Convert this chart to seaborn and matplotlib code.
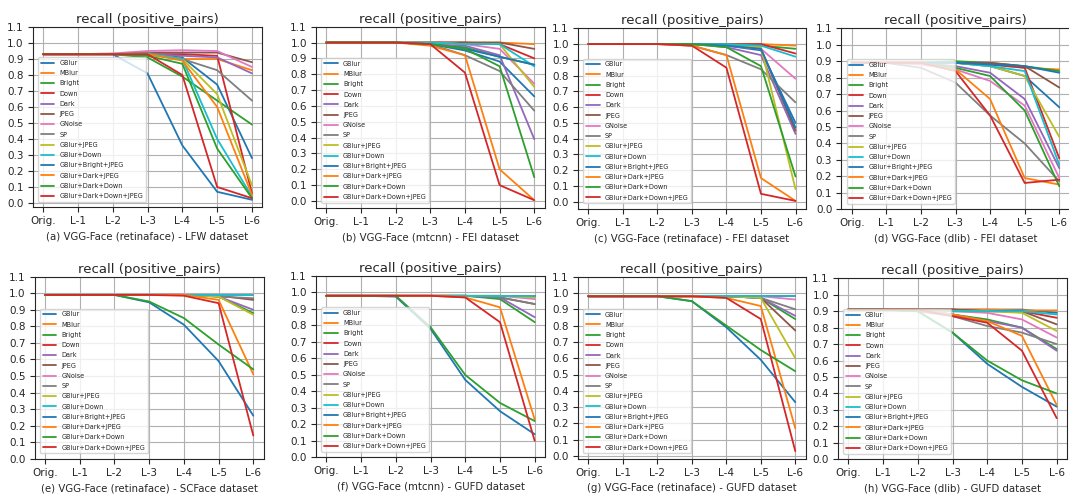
import numpy as np
import pandas as pd
import matplotlib.pyplot as plt
import seaborn as sns
from matplotlib.ticker import FormatStrFormatter

# Data

levels = ['Orig.', 'L-1', 'L-2', 'L-3', 'L-4', 'L-5', 'L-6']
methods = ['GBlur', 'MBlur', 'Bright', 'Down', 'Dark', 'JPEG', 'GNoise', 'SP',
           'GBlur+JPEG', 'GBlur+Down', 'GBlur+Bright+JPEG', 'GBlur+Dark+JPEG',
           'GBlur+Dark+Down', 'GBlur+Dark+Down+JPEG']

retina_lfw = [
    [.93, .93, .93, .93, .91, .74, .28],
    [.93, .93, .93, .93, .90, .90, .83],
    [.93, .93, .93, .91, .79, .64, .49],
    [.93, .93, .93, .93, .93, .92, .06],
    [.93, .93, .93, .93, .92, .91, .81],
    [.93, .93, .93, .94, .94, .94, .88],
    [.93, .93, .935, .95, .955, .95, .85],
    [.93, .93, .93, .94, .90, .83, .64],
    [.93, .93, .93, .93, .90, .68, .11],
    [.93, .93, .93, .93, .90, .40, .04],
    [.93, .93, .93, .81, .36, .07, .02],
    [.93, .93, .93, .93, .89, .60, .05],
    [.93, .93, .93, .92, .87, .34, .03],
    [.93, .93, .93, .93, .80, .10, .03],
]
mtcnn_fei = [
    [1, 1, 1, .99, .95, .88, .66],
    [1, 1, 1, 1, 1, 1, .99],
    [1, 1, 1, .99, .97, .91, .86],
    [1, 1, 1, 1, 1, .99, .90],
    [1, 1, 1, .99, .98, .92, .39],
    [1, 1, 1, 1, 1, 1, .96],
    [1, 1, 1, 1, .99, .96, .74],
    [1, 1, 1, .99, .92, .82, .57],
    [1, 1, 1, 1, .99, .99, .72],
    [1, 1, 1, 1, .99, .99, .85],
    [1, 1, 1, .99, .96, .91, .86],
    [1, 1, 1, .98, .92, .20, .005],
    [1, 1, 1, .99, .96, .85, .15],
    [1, 1, 1, .99, .81, .10, .005],
]
retina_fei = [
    [1, 1, 1, 1, .99, .96, .50],
    [1, 1, 1, 1, 1, 1, .99],
    [1, 1, 1, 1, .99, .99, .97],
    [1, 1, 1, 1, 1, 1, .94],
    [1, 1, 1, 1, .98, .93, .43],
    [1, 1, 1, 1, .99, .97, .45],
    [1, 1, 1, 1, .99, .97, .78],
    [1, 1, 1, .99, .93, .84, .63],
    [1, 1, 1, 1, .99, .98, .08],
    [1, 1, 1, 1, 1, .99, .92],
    [1, 1, 1, 1, .99, .97, .47],
    [1, 1, 1, .99, .93, .15, .005],
    [1, 1, 1, 1, .98, .86, .16],
    [1, 1, 1, .99, .85, .05, .005],
]
dlib_fei = [
    [.89, .89, .89, .89, .87, .81, .62],
    [.89, .89, .89, .89, .88, .86, .85],
    [.89, .89, .89, .90, .89, .87, .84],
    [.89, .89, .89, .89, .88, .86, .31],
    [.89, .89, .89, .87, .83, .67, .25],
    [.89, .89, .89, .89, .89, .87, .74],
    [.89, .89, .88, .85, .78, .63, .19],
    [.89, .89, .86, .77, .57, .40, .17],
    [.89, .89, .89, .89, .87, .81, .44],
    [.89, .89, .89, .89, .87, .84, .27],
    [.89, .89, .89, .89, .88, .87, .83],
    [.89, .89, .89, .85, .67, .19, .15],
    [.89, .89, .89, .86, .81, .60, .14],
    [.89, .89, .89, .84, .57, .16, .18],
]
retina_scface = [
    [.99, .99, .99, .99, .99, .99, .99],
    [.99, .99, .99, .99, .99, .99, .99],
    [.99, .99, .99, .99, .99, .98, .88],
    [.99, .99, .99, .99, .99, .99, .99],
    [.99, .99, .99, .99, .99, .98, .90],
    [.99, .99, .99, .99, .99, .985, .96],
    [.99, .99, .99, .99, .99, .99, .99],
    [.99, .99, .99, .99, .99, .98, .97],
    [.99, .99, .99, .99, .99, .98, .87],
    [.99, .99, .99, .99, .99, .99, .99],
    [.99, .99, .99, .945, .81, .59, .26],
    [.99, .99, .99, .99, .99, .96, .51],
    [.99, .99, .99, .95, .85, .69, .54],
    [.99, .99, .99, .99, .985, .94, .14],
]
mtcnn_gufd = [
    [.98, .98, .98, .98, .98, .98, .98],
    [.98, .98, .98, .98, .98, .98, .98],
    [.98, .98, .98, .98, .98, .96, .82],
    [.98, .98, .98, .98, .98, .98, .98],
    [.98, .98, .98, .98, .98, .97, .85],
    [.98, .98, .98, .98, .98, .97, .93],
    [.98, .98, .98, .98, .98, .98, .96],
    [.98, .98, .98, .98, .98, .97, .93],
    [.98, .98, .98, .98, .98, .98, .97],
    [.98, .98, .98, .98, .98, .98, .98],
    [.98, .98, .975, .78, .47, .28, .14],
    [.98, .98, .98, .98, .97, .91, .23],
    [.98, .98, .98, .79, .50, .33, .22],
    [.98, .98, .98, .98, .97, .82, .10],
]
retina_gufd = [
    [.98, .98, .98, .98, .98, .98, .98],
    [.98, .98, .98, .98, .98, .98, .98],
    [.98, .98, .98, .98, .98, .97, .84],
    [.98, .98, .98, .98, .98, .98, .98],
    [.98, .98, .98, .98, .98, .97, .86],
    [.98, .98, .98, .98, .98, .97, .77],
    [.98, .98, .98, .98, .98, .98, .96],
    [.98, .98, .98, .98, .98, .97, .90],
    [.98, .98, .98, .98, .98, .97, .60],
    [.98, .98, .98, .98, .98, .98, .98],
    [.98, .98, .98, .95, .79, .59, .33],
    [.98, .98, .98, .98, .97, .92, .17],
    [.98, .98, .98, .95, .80, .65, .52],
    [.98, .98, .98, .98, .97, .84, .03],
]
dlib_gufd = [
    [.91, .91, .91, .91, .91, .91, .89],
    [.91, .91, .91, .91, .91, .905, .905],
    [.91, .91, .91, .88, .85, .80, .67],
    [.91, .91, .91, .91, .90, .90, .86],
    [.91, .91, .91, .88, .84, .80, .66],
    [.91, .91, .91, .91, .90, .90, .82],
    [.91, .91, .91, .90, .89, .85, .74],
    [.91, .91, .90, .87, .81, .77, .70],
    [.91, .91, .91, .90, .90, .89, .78],
    [.91, .91, .91, .90, .90, .90, .88],
    [.91, .91, .90, .77, .58, .44, .32],
    [.91, .91, .91, .88, .84, .75, .33],
    [.91, .91, .90, .77, .60, .48, .40],
    [.91, .91, .91, .87, .83, .66, .25],
]

panels = [retina_lfw, mtcnn_fei, retina_fei, dlib_fei,
          retina_scface, mtcnn_gufd, retina_gufd, dlib_gufd]
captions = ['(a) VGG-Face (retinaface) - LFW dataset',
            '(b) VGG-Face (mtcnn) - FEI dataset',
            '(c) VGG-Face (retinaface) - FEI dataset',
            '(d) VGG-Face (dlib) - FEI dataset',
            '(e) VGG-Face (retinaface) - SCFace dataset',
            '(f) VGG-Face (mtcnn) - GUFD dataset',
            '(g) VGG-Face (retinaface) - GUFD dataset',
            '(h) VGG-Face (dlib) - GUFD dataset']

# Layout: pixel x of 'Orig.' and 'L-6', pixel y of 1.1 and 0.0 for each panel
anchors = [(43, 252, 27, 203), (326.3, 534.3, 26.7, 201),
           (588.3, 795.5, 28.3, 201.7), (851.7, 1059.3, 28.3, 209.3),
           (45, 253.3, 276.7, 458.7), (326.3, 534.7, 276, 457.3),
           (588.3, 795.3, 276.7, 456), (848.3, 1056.7, 278.3, 459.3)]

sns.set_style('ticks', {'axes.grid': True, 'grid.color': '#b0b0b0',
                        'axes.edgecolor': '0.15'})
plt.rcParams['font.family'] = ['DejaVu Sans']

W, H = 1069, 500
fig = plt.figure(figsize=(W / 100, H / 100), dpi=100)
tab = sns.color_palette('tab10')
palette = [tab[i % 10] for i in range(len(methods))]

for vals, cap, (x0, x6, y11, y0) in zip(panels, captions, anchors):
    df = pd.DataFrame(vals, index=methods, columns=range(len(levels)))
    df.index.name = 'method'
    long = df.reset_index().melt(id_vars='method', var_name='level', value_name='recall')
    ax = fig.add_axes([0, 0, 1, 1])
    sns.lineplot(data=long, x='level', y='recall', hue='method', hue_order=methods,
                 palette=palette, linewidth=1.3, errorbar=None, legend=False, ax=ax)
    ax.set_xticks(range(len(levels)), levels)
    ax.set_yticks(np.round(np.arange(0, 1.11, 0.1), 1))
    ax.yaxis.set_major_formatter(FormatStrFormatter('%.1f'))
    ax.set_ylim(ax.get_ylim())
    ax.tick_params(axis='both', labelsize=7.5, length=3.5, width=0.8, pad=3)
    ax.set_ylabel('')
    ax.set_xlabel(cap, fontsize=7.3, labelpad=4)
    ax.set_title('recall (positive_pairs)', fontsize=9.5, pad=3)
    ax.grid(True, color='#b0b0b0', linewidth=0.8)
    for s in ax.spines.values():
        s.set_linewidth(0.8)
    ax.legend(ax.get_lines()[:len(methods)], methods, loc='lower left', fontsize=4.7,
              borderaxespad=0.85, labelspacing=0.65, handlelength=2.1, framealpha=0.8)
    # place axes so that the data coordinates land on the reference pixels
    lo, hi = ax.get_ylim()
    xl, xh = ax.get_xlim()
    px_x = (x6 - x0) / 6
    px_y = (y0 - y11) / 1.1
    left = x0 + xl * px_x
    right = x0 + xh * px_x
    top = y0 - hi * px_y
    bottom = y0 - lo * px_y
    ax.set_position([left / W, 1 - bottom / H, (right - left) / W, (bottom - top) / H])

plt.savefig('out.png', dpi=100)
plt.close()
